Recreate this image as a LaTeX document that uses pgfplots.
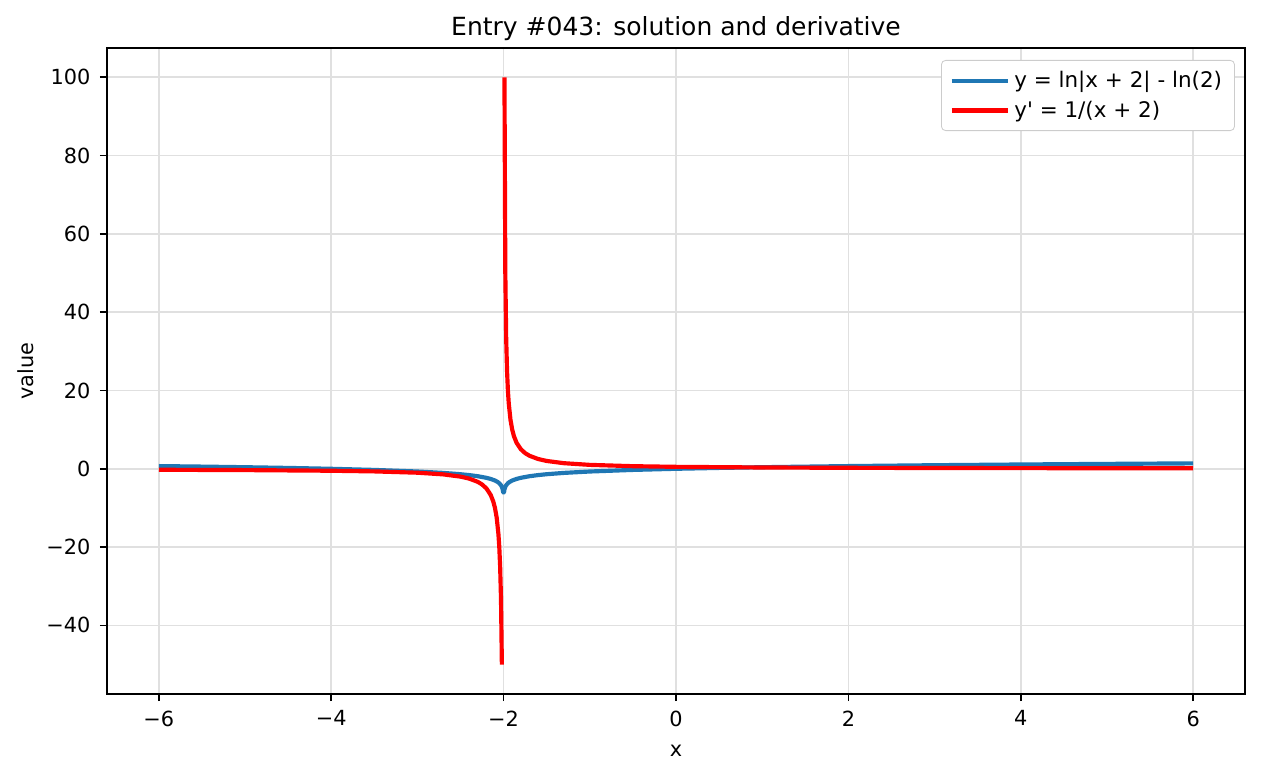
\documentclass[border=0pt]{standalone}
\usepackage{pgfplots}
\pgfplotsset{compat=1.18}
\usepackage{fontspec}
\setmainfont{DejaVu Sans}
\definecolor{mplblue}{HTML}{1F77B4}
\begin{document}
\begin{tikzpicture}
\useasboundingbox (-51.4pt,-39.4pt) rectangle (554.4pt,333.1pt);
\begin{axis}[
  at={(0,0)}, anchor=south west,
  scale only axis, width=546.2pt, height=310.1pt,
  xmin=-6.6, xmax=6.6, ymin=-57.5, ymax=107.5,
  xtick={-6,-4,-2,0,2,4,6},
  xticklabels={−6,−4,−2,0,2,4,6},
  ytick={-40,-20,0,20,40,60,80,100},
  yticklabels={−40,−20,0,20,40,60,80,100},
  tick align=outside, major tick length=3.5pt,
  tick style={black, line width=0.8pt},
  xtick pos=bottom, ytick pos=left,
  axis line style={line width=0.8pt},
  grid=major, grid style={black!12, line width=0.8pt},
  ticklabel style={font=\fontsize{10}{12}\selectfont},
  xticklabel style={yshift=-1pt},
  yticklabel style={xshift=-1pt},
  xlabel={x}, ylabel={value},
  label style={font=\fontsize{10}{12}\selectfont},
  xlabel style={yshift=-2pt},
  ylabel style={yshift=-1pt},
  title={Entry \#043: solution and derivative},
  title style={font=\fontsize{12}{14}\selectfont, yshift=-6pt},
  legend cell align=left,
  legend style={at={(1,1)}, anchor=north east, xshift=-4.8pt, yshift=-5.8pt,
    draw=black!20, rounded corners=2pt, fill=white, font=\fontsize{10.3}{12}\selectfont,
    row sep=1pt, inner xsep=4pt, inner ysep=3pt},
  legend image code/.code={\draw[#1, line width=2pt] (0pt,0pt) -- (20pt,0pt); \path (0pt,0pt) -- (27pt,0pt);},
]
\addplot[mplblue, line width=2pt, line join=round] coordinates {
(-6,0.693) (-5.5,0.560) (-5,0.405) (-4.5,0.223) (-4,0) (-3.5,-0.288) (-3,-0.693) (-2.7,-1.050)
(-2.5,-1.386) (-2.4,-1.609) (-2.3,-1.897) (-2.2,-2.303) (-2.15,-2.590) (-2.1,-2.996) (-2.07,-3.352) (-2.05,-3.689)
(-2.03,-4.200) (-2.02,-4.605) (-2.01,-5.298) (-2.005,-5.991) (-2.0,-6.05) (-1.995,-5.991) (-1.99,-5.298)
(-1.98,-4.605) (-1.97,-4.200) (-1.95,-3.689) (-1.93,-3.352) (-1.9,-2.996) (-1.85,-2.590) (-1.8,-2.303)
(-1.7,-1.897) (-1.6,-1.609) (-1.5,-1.386) (-1.3,-1.050) (-1,-0.693) (-0.5,-0.288) (0,0) (0.5,0.223)
(1,0.405) (2,0.693) (3,0.916) (4,1.099) (5,1.253) (6,1.386)
};
\addlegendentry{y = ln|x + 2| - ln(2)}
\addplot[red, line width=2pt, line join=round] coordinates {
(-6,-0.25) (-5,-0.333) (-4,-0.5) (-3.5,-0.667) (-3,-1) (-2.7,-1.429) (-2.5,-2) (-2.4,-2.5)
(-2.3,-3.333) (-2.25,-4) (-2.2,-5) (-2.15,-6.667) (-2.12,-8.333) (-2.1,-10) (-2.08,-12.5) (-2.06,-16.67)
(-2.05,-20) (-2.04,-25) (-2.03,-33.33) (-2.02,-50)
};
\addlegendentry{y\textquotesingle{} = 1/(x + 2)}
\addplot[red, line width=2pt, line join=round, forget plot] coordinates {
(-1.99,100) (-1.98,50) (-1.97,33.33) (-1.96,25) (-1.95,20) (-1.94,16.67) (-1.92,12.5) (-1.9,10)
(-1.88,8.333) (-1.85,6.667) (-1.8,5) (-1.75,4) (-1.7,3.333) (-1.6,2.5) (-1.5,2) (-1.3,1.429)
(-1,1) (-0.5,0.667) (0,0.5) (1,0.333) (2,0.25) (3,0.2) (4,0.1667) (5,0.1429) (6,0.125)
};
\end{axis}
\end{tikzpicture}
\end{document}
